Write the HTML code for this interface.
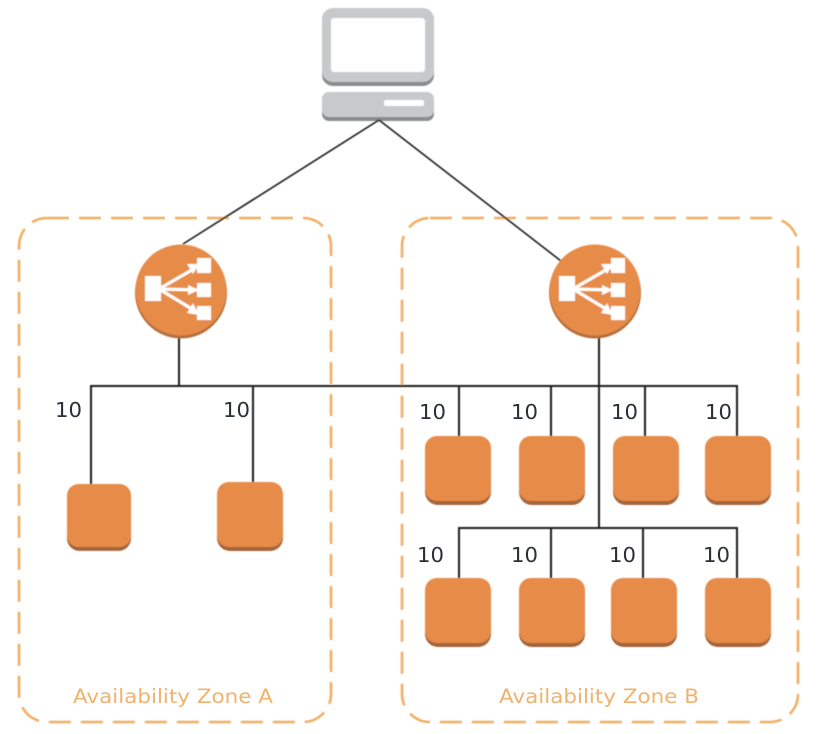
<!DOCTYPE html>
<html>
<head>
<meta charset="utf-8">
<style>
html,body{margin:0;padding:0;background:#fff;width:820px;height:734px;overflow:hidden}
svg{display:block}
.num{font-family:"DejaVu Sans",sans-serif;font-size:20.5px;fill:#2a3038}
.zone{font-family:"DejaVu Sans",sans-serif;font-size:19.5px;fill:#f0b36e}
</style>
</head>
<body>
<svg width="820" height="734" viewBox="0 0 820 734" xmlns="http://www.w3.org/2000/svg">
<defs>
<filter id="b" x="-5%" y="-5%" width="110%" height="110%"><feGaussianBlur stdDeviation="0.45"/></filter>
<g id="sq">
<rect x="0" y="4" width="66" height="65" rx="13" fill="#a5653a"/>
<rect x="0" y="0" width="66" height="65" rx="12" fill="#e78b49"/>
</g>
<g id="lb">
<circle cx="0" cy="1.5" r="46" fill="#b46f3e"/>
<circle cx="0" cy="-1" r="45.5" fill="#e78b49"/>
<rect x="-36" y="-15" width="16" height="25" fill="#fff"/>
<rect x="16" y="-33" width="14" height="15" fill="#fff"/>
<rect x="16" y="-8" width="14" height="14" fill="#fff"/>
<rect x="16" y="15" width="14" height="14" fill="#fff"/>
<path d="M-22 -2 L16 -24 M-22 -2 L16 -1 M-22 -2 L16 21" stroke="#fff" stroke-width="3.2" fill="none"/>
<path d="M6 -27 L18 -27 L12 -17 Z M7 -6 L18 -1 L7 4 Z M6 22 L18 24 L12 12 Z" fill="#fff"/>
</g>
</defs>
<g filter="url(#b)">
<!-- zones -->
<rect x="19" y="218" width="312" height="504" rx="28" fill="none" stroke="#f2ae62" stroke-width="2.6" stroke-dasharray="22 10"/>
<rect x="402" y="218" width="396" height="504" rx="28" fill="none" stroke="#f2ae62" stroke-width="2.6" stroke-dasharray="22 10"/>

<!-- computer -->
<rect x="322" y="13" width="112" height="73" rx="11" fill="#8b8c8e"/>
<rect x="322" y="8" width="112" height="74" rx="11" fill="#c8c9cb"/>
<rect x="331" y="18" width="94" height="54" rx="3" fill="#fff"/>
<rect x="322" y="95" width="112" height="26" rx="7" fill="#8b8c8e"/>
<rect x="322" y="92" width="112" height="25" rx="7" fill="#c8c9cb"/>
<rect x="384" y="100" width="40" height="6" rx="2" fill="#fff"/>

<!-- connectors -->
<g stroke="#1e1e1e" fill="none">
<path d="M379 120 L183 244" stroke-width="1.6"/>
<path d="M379 120 L561 261" stroke-width="1.6"/>
<g stroke-width="2">
<path d="M91 486 V386 H737 V436"/>
<path d="M253 386 V484"/>
<path d="M179 335 V386"/>
<path d="M459 386 V436"/>
<path d="M551 386 V436"/>
<path d="M645 386 V436"/>
<path d="M599 337 V528"/>
<path d="M459 578 V528 H737 V578"/>
<path d="M551 528 V578"/>
<path d="M643 528 V578"/>
</g>
</g>

<!-- load balancers -->
<use href="#lb" x="181" y="291"/>
<use href="#lb" x="595" y="291"/>

<!-- instances -->
<use href="#sq" transform="translate(67,484) scale(0.97,0.97)"/>
<use href="#sq" x="217" y="482"/>
<use href="#sq" x="425" y="436"/>
<use href="#sq" x="519" y="436"/>
<use href="#sq" x="613" y="436"/>
<use href="#sq" x="705" y="436"/>
<use href="#sq" x="425" y="578"/>
<use href="#sq" x="519" y="578"/>
<use href="#sq" x="611" y="578"/>
<use href="#sq" x="705" y="578"/>
</g>

<!-- labels -->
<text class="num" x="55" y="417" textLength="27" lengthAdjust="spacingAndGlyphs">10</text>
<text class="num" x="223" y="417" textLength="27" lengthAdjust="spacingAndGlyphs">10</text>
<text class="num" x="419" y="419" textLength="27" lengthAdjust="spacingAndGlyphs">10</text>
<text class="num" x="511" y="419" textLength="27" lengthAdjust="spacingAndGlyphs">10</text>
<text class="num" x="611" y="419" textLength="27" lengthAdjust="spacingAndGlyphs">10</text>
<text class="num" x="705" y="419" textLength="27" lengthAdjust="spacingAndGlyphs">10</text>
<text class="num" x="417" y="562" textLength="27" lengthAdjust="spacingAndGlyphs">10</text>
<text class="num" x="511" y="562" textLength="27" lengthAdjust="spacingAndGlyphs">10</text>
<text class="num" x="609" y="562" textLength="27" lengthAdjust="spacingAndGlyphs">10</text>
<text class="num" x="703" y="562" textLength="27" lengthAdjust="spacingAndGlyphs">10</text>
<text class="zone" x="73" y="703" textLength="200" lengthAdjust="spacingAndGlyphs">Availability Zone A</text>
<text class="zone" x="499" y="703" textLength="200" lengthAdjust="spacingAndGlyphs">Availability Zone B</text>
</svg>
</body>
</html>
